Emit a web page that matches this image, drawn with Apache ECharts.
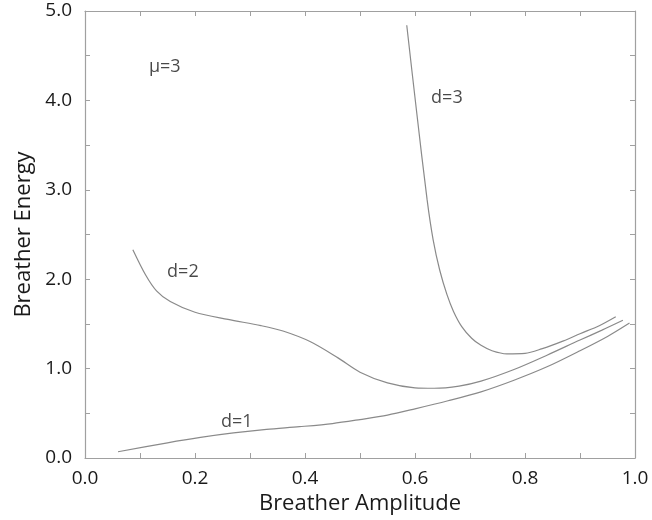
<!DOCTYPE html>
<html>
<head>
<meta charset="utf-8">
<script src="https://cdn.jsdelivr.net/npm/echarts@6/dist/echarts.min.js"></script>
<style>
  html, body { margin: 0; padding: 0; background: #fff; }
  #chart { width: 652px; height: 520px; }
</style>
</head>
<body>
<div id="chart"></div>
<script>
// curve d=1
var d1X = [0.06, 0.15, 0.21, 0.27, 0.33, 0.39, 0.45, 0.5, 0.55, 0.6, 0.66, 0.72, 0.78, 0.84, 0.9, 0.95, 0.99];
var d1Y = [0.07, 0.17, 0.23, 0.28, 0.32, 0.35, 0.385, 0.43, 0.48, 0.55, 0.64, 0.74, 0.87, 1.02, 1.20, 1.36, 1.51];
// curve d=2
var d2X = [0.087, 0.11, 0.13, 0.155, 0.2, 0.26, 0.32, 0.36, 0.41, 0.46, 0.5, 0.55, 0.6, 0.635, 0.68, 0.72, 0.78, 0.84, 0.9, 0.94, 0.978];
var d2Y = [2.33, 2.05, 1.87, 1.75, 1.63, 1.55, 1.48, 1.42, 1.30, 1.12, 0.96, 0.84, 0.785, 0.78, 0.805, 0.86, 0.99, 1.15, 1.32, 1.43, 1.54];
// curve d=3
var d3X = [0.585, 0.603, 0.622, 0.633, 0.645, 0.658, 0.67, 0.685, 0.703, 0.72, 0.74, 0.767, 0.8, 0.83, 0.87, 0.9, 0.935, 0.965];
var d3Y = [4.84, 3.87, 2.89, 2.44, 2.10, 1.83, 1.64, 1.47, 1.34, 1.26, 1.20, 1.165, 1.17, 1.22, 1.31, 1.39, 1.48, 1.58];

// annotations (text, x, y)
var noteText = ['\u03bc=3', 'd=3', 'd=2', 'd=1'];
var noteX = [0.145, 0.658, 0.178, 0.276];
var noteY = [4.37, 4.03, 2.08, 0.40];

var xTicks = { min: 0, max: 1, step: 0.1 };
var yTicks = { min: 0, max: 5, step: 0.5 };

function pairs(xs, ys) {
    return xs.map(function (x, i) { return [x, ys[i]]; });
}

var font = '"Open Sans", "DejaVu Sans", sans-serif';
var axisGray = '#a0a0a0';
var textColor = '#1a1a1a';

function curve(xs, ys) {
    return {
        type: 'line',
        data: pairs(xs, ys),
        showSymbol: false,
        smooth: 0.3,
        lineStyle: { color: '#8a8a8a', width: 1.2 },
        silent: true
    };
}

// mirrored axis (top / right) - ticks only
function mirror(position, range) {
    return {
        type: 'value', position: position,
        min: range.min, max: range.max, interval: range.step,
        axisLine: { show: true, onZero: false, lineStyle: { color: axisGray, width: 1.2 } },
        axisTick: { inside: true, length: 5, lineStyle: { color: axisGray } },
        axisLabel: { show: false },
        splitLine: { show: false }
    };
}

var chart = echarts.init(document.getElementById('chart'));
chart.setOption({
    animation: false,
    grid: { left: 85, right: 17, top: 11, bottom: 62, containLabel: false },
    xAxis: [{
        type: 'value', position: 'bottom',
        min: xTicks.min, max: xTicks.max, interval: xTicks.step,
        name: 'Breather Amplitude', nameLocation: 'middle', nameGap: 35,
        nameTextStyle: { fontFamily: font, fontSize: 22, color: textColor },
        axisLine: { show: true, onZero: false, lineStyle: { color: axisGray, width: 1.2 } },
        axisTick: { inside: true, length: 5, lineStyle: { color: axisGray } },
        axisLabel: {
            margin: 11, fontFamily: font, fontSize: 19, color: textColor,
            formatter: function (v) { return Math.round(v * 10) % 2 === 0 ? v.toFixed(1) : ''; }
        },
        splitLine: { show: false }
    }, mirror('top', xTicks)],
    yAxis: [{
        type: 'value', position: 'left',
        min: yTicks.min, max: yTicks.max, interval: yTicks.step,
        name: 'Breather Energy', nameLocation: 'middle', nameGap: 50,
        nameTextStyle: { fontFamily: font, fontSize: 22, color: textColor },
        axisLine: { show: true, onZero: false, lineStyle: { color: axisGray, width: 1.2 } },
        axisTick: { inside: true, length: 5, lineStyle: { color: axisGray } },
        axisLabel: {
            margin: 13, fontFamily: font, fontSize: 19, color: textColor,
            formatter: function (v) { return Math.round(v * 10) % 10 === 0 ? v.toFixed(1) : ''; }
        },
        splitLine: { show: false }
    }, mirror('right', yTicks)],
    series: [
        curve(d1X, d1Y),
        curve(d2X, d2Y),
        curve(d3X, d3Y),
        {
            type: 'scatter',
            symbolSize: 0,
            silent: true,
            data: noteText.map(function (t, i) { return { value: [noteX[i], noteY[i]], name: t }; }),
            label: {
                show: true, position: 'inside',
                formatter: function (p) { return p.name; },
                fontFamily: font, fontSize: 18, color: textColor
            }
        }
    ]
});
</script>
</body>
</html>
